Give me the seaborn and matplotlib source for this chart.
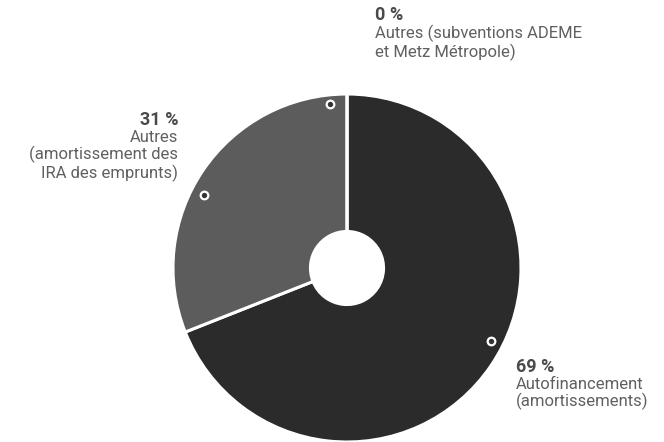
import numpy as np
import matplotlib
matplotlib.use("Agg")
import matplotlib.pyplot as plt
import seaborn as sns

# Financing sources
shares = [69, 31, 0]
pct_labels = ["69 %", "31 %", "0 %"]
captions = [
    "Autofinancement\n(amortissements)",
    "Autres\n(amortissement des\nIRA des emprunts)",
    "Autres (subventions ADEME\net Metz Métropole)",
]

sns.set_theme(style="white")
plt.rcParams["font.family"] = ["Roboto", "DejaVu Sans"]

colors = ["#2b2b2b", "#5c5c5c", "#8a8a8a"]

W, H = 664, 442
fig = plt.figure(figsize=(W / 100, H / 100), dpi=100)
cx, cy, R = 347, 268, 174
ax = fig.add_axes([(cx - R) / W, (H - cy - R) / H, 2 * R / W, 2 * R / H])

wedges, _ = ax.pie(
    shares, colors=colors, startangle=90, counterclock=False, radius=1,
    wedgeprops=dict(edgecolor="white", linewidth=2.2, width=0.79),
)
ax.set_xlim(-1, 1)
ax.set_ylim(-1, 1)
ax.set_aspect("equal")
ax.axis("off")

# small ring markers pointing towards each label
marker_pos = [(-27, 0.93), (153, 0.92), (96, 0.95)]
for ang, r in marker_pos:
    t = np.deg2rad(ang)
    ax.scatter([r * np.cos(t)], [r * np.sin(t)], s=30, facecolor="#333333",
               edgecolor="white", linewidth=1.6, zorder=5, clip_on=False)


def px(x, y):
    return ((x - cx) / R, (cy - y) / R)


label_pos = [(516, 367, "left"), (178, 120, "right"), (375, 15, "left")]
for (x, y, ha), p, c in zip(label_pos, pct_labels, captions):
    dx, dy = px(x, y)
    ax.text(dx, dy, p, ha=ha, va="center", fontsize=13, fontweight="bold",
            color="#4a4a4a", clip_on=False)
    dx2, dy2 = px(x, y + 10)
    ax.text(dx2, dy2, c, ha=ha, va="top", fontsize=12, color="#606060",
            linespacing=1.08, multialignment=ha, clip_on=False)

fig.savefig("out.png", dpi=100, facecolor="white")
